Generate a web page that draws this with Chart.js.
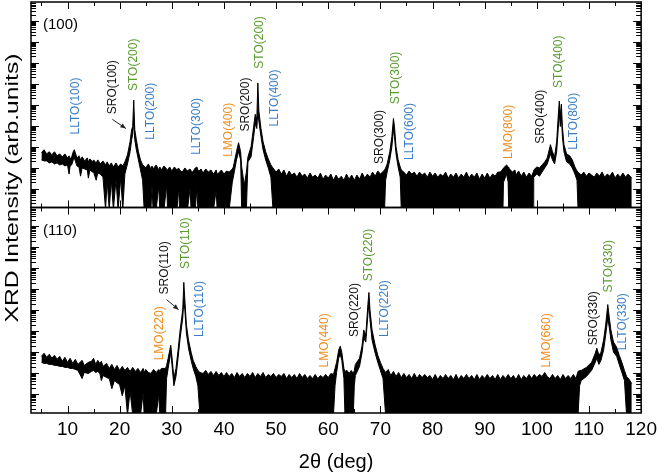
<!DOCTYPE html>
<html>
<head>
<meta charset="utf-8">
<script src="https://cdn.jsdelivr.net/npm/chart.js"></script>
<style>
  html, body { margin: 0; padding: 0; background: #fff; }
</style>
</head>
<body>
<canvas id="xrd" width="664" height="473"></canvas>
<script>
// 2theta (deg) and intensity envelope of the noisy scans (arb. units, log axis)
// upper = top edge of the trace, lower = bottom edge (1 = noise reaching the floor)

// (100) oriented film
const thetaTop = [
    5.0, 5.5, 6.0, 6.5, 7.0, 7.5, 8.0, 8.5, 9.0, 9.5,
    10.0, 10.3, 10.5, 10.8, 11.1, 11.3, 11.5, 11.8, 12.2, 12.5,
    12.8, 13.3, 13.8, 14.0, 14.3, 14.8, 15.0, 15.5, 15.8, 16.3,
    16.8, 17.3, 17.6, 18.0, 18.4, 18.8, 19.3, 19.7, 20.2, 20.6,
    21.0, 21.5, 22.0, 22.3, 22.5, 22.7, 22.9, 23.2, 23.6, 24.0,
    24.4, 24.7, 25.0, 25.5, 26.0, 26.2, 26.4, 27.0, 27.5, 27.7,
    28.0, 28.5, 29.0, 29.2, 29.6, 30.0, 30.5, 31.0, 31.3, 31.5,
    32.0, 32.5, 33.0, 33.5, 33.7, 34.0, 34.5, 34.8, 35.0, 35.2,
    35.6, 36.0, 36.5, 37.0, 37.5, 38.0, 38.5, 38.7, 39.0, 39.5,
    40.0, 40.5, 41.0, 41.6, 41.8, 42.4, 42.8, 43.2, 43.4, 43.9,
    44.3, 44.6, 45.2, 45.7, 46.0, 46.3, 46.5, 46.7, 47.1, 47.5,
    48.0, 48.5, 49.0, 49.4, 50, 50.5, 51, 51.5, 52, 52.5,
    53, 53.5, 54, 54.5, 55, 55.5, 56, 56.5, 57, 57.5,
    58, 58.5, 59, 59.5, 60, 60.5, 61, 61.5, 62, 62.5,
    63, 63.5, 64, 64.5, 65, 65.5, 66, 66.5, 67, 67.5,
    68, 68.5, 69, 69.5, 70, 70.8, 71.0, 71.3, 71.8, 72.2,
    72.5, 72.7, 73.0, 73.4, 73.8, 74.0, 74.5, 75, 75.5, 76,
    76.5, 77, 77.5, 78, 78.5, 79, 79.5, 80, 80.5, 81,
    81.5, 82, 82.5, 83, 83.5, 84, 84.5, 85, 85.5, 86,
    86.5, 87, 87.5, 88, 88.5, 89, 89.5, 90, 90.5, 91,
    91.5, 92, 92.5, 93, 93.5, 93.6, 94.2, 94.5, 94.6, 95.3,
    95.8, 96, 96.5, 97, 97.5, 98, 98.5, 99, 99.3, 99.4,
    100.0, 100.5, 101.0, 101.5, 102.0, 102.6, 103.0, 103.4, 103.8, 104.1,
    104.3, 104.5, 104.7, 104.9, 105.2, 105.7, 106.3, 106.8, 107.3, 107.7,
    107.9, 108.5, 109, 109.5, 110, 110.5, 111, 111.5, 112, 112.5,
    113, 113.5, 114, 114.5, 115, 115.5, 116, 116.5, 117, 117.5, 118.2
];
const upperTop = [
    510, 710, 450, 570, 405, 570, 365, 450, 325, 450,
    290, 365, 260, 325, 570, 710, 510, 290, 365, 233,
    325, 208, 290, 187, 260, 187, 233, 167, 233, 149,
    208, 134, 187, 120, 167, 107, 167, 107, 149, 120,
    187, 405, 1730, 6500, 9100, 165000, 6500, 2150, 570, 233,
    134, 120, 96, 149, 86, 120, 86, 134, 77, 107,
    77, 120, 86, 77, 107, 69, 107, 77, 96, 77,
    61, 96, 69, 86, 69, 61, 96, 107, 77, 69,
    86, 55, 86, 61, 77, 49, 77, 49, 55, 77,
    49, 69, 61, 86, 107, 570, 1540, 570, 107, 14.4,
    61, 325, 990, 9100, 35000, 20000, 1090000, 49000, 7300, 1730,
    570, 260, 134, 96, 61, 86, 49, 77, 39, 69,
    44, 55, 35, 61, 39, 49, 31.5, 55, 35, 44,
    31.5, 55, 28, 44, 31.5, 49, 25, 44, 28, 39,
    25, 49, 28, 44, 25, 44, 28, 55, 31.5, 49,
    35, 61, 39, 69, 49, 77, 96, 149, 570, 3000,
    22000, 9100, 990, 233, 107, 77, 61, 44, 69, 49,
    61, 39, 61, 44, 55, 35, 61, 39, 55, 35,
    49, 39, 61, 31.5, 49, 35, 55, 31.5, 49, 35,
    61, 31.5, 49, 35, 55, 28, 49, 31.5, 55, 31.5,
    49, 39, 61, 61, 86, 96, 134, 107, 96, 61,
    77, 44, 69, 39, 61, 35, 55, 39, 61, 77,
    107, 96, 134, 187, 290, 1240, 570, 325, 1730, 28000,
    148000, 28000, 106000, 9100, 1240, 450, 365, 233, 107, 69,
    61, 44, 61, 39, 55, 44, 35, 55, 39, 61,
    35, 49, 39, 61, 31.5, 49, 35, 55, 35, 49, 31.5
];
const lowerTop = [
    233, 208, 208, 167, 187, 149, 167, 134, 149, 120,
    134, 49, 120, 134, 233, 290, 208, 120, 107, 39,
    96, 86, 77, 31.5, 77, 61, 61, 25, 55, 49,
    35, 1, 25, 1, 25, 1, 28, 1, 31.5, 1,
    49, 149, 570, 2150, 3800, 16000, 2150, 710, 233, 77,
    25, 1, 1, 1, 1, 16, 1, 1, 12.9, 1,
    1, 1, 14.4, 1, 1, 1, 1, 1, 11.6, 1,
    1, 1, 1, 10.3, 1, 1, 1, 10.3, 1, 1,
    1, 1, 1, 1, 1, 1, 8.3, 1, 1, 1,
    1, 1, 1, 20, 35, 233, 570, 233, 1, 1,
    1, 187, 325, 3000, 12800, 7300, 49000, 16000, 3000, 710,
    233, 96, 35, 1, 1, 1, 1, 1, 1, 1,
    1, 1, 1, 1, 1, 1, 1, 1, 1, 1,
    1, 1, 1, 1, 1, 1, 1, 1, 1, 1,
    1, 1, 1, 1, 1, 1, 1, 1, 1, 1,
    1, 1, 1, 1, 1, 1, 25, 61, 233, 990,
    6500, 3000, 450, 107, 35, 1, 1, 1, 1, 1,
    1, 1, 1, 1, 1, 1, 1, 1, 1, 1,
    1, 1, 1, 1, 1, 1, 1, 1, 1, 1,
    1, 1, 1, 1, 1, 1, 1, 1, 1, 1,
    1, 1, 1, 1, 1, 20, 49, 20, 1, 1,
    1, 1, 1, 1, 1, 1, 1, 1, 1, 35,
    49, 39, 61, 96, 149, 450, 233, 149, 570, 6500,
    38800, 9100, 28000, 3000, 570, 187, 149, 96, 49, 25,
    1, 1, 1, 1, 1, 1, 1, 1, 1, 1,
    1, 1, 1, 1, 1, 1, 1, 1, 1, 1, 1
];

// (110) oriented film
const thetaBot = [
    5.0, 5.5, 6.0, 6.5, 7.0, 7.5, 8.0, 8.5, 9.0, 9.5,
    10.0, 10.5, 11.0, 11.5, 12.0, 12.8, 13.2, 14.0, 14.6, 15.0,
    15.4, 15.8, 16.2, 16.5, 16.8, 17.5, 18.0, 18.5, 19.0, 19.5,
    20.0, 20.5, 21.0, 21.5, 22.0, 22.5, 23.0, 23.5, 24.0, 24.5,
    24.7, 25.0, 25.5, 26.0, 26.5, 27.0, 27.5, 27.7, 28.0, 28.8,
    29.0, 29.3, 29.8, 30.1, 30.4, 30.8, 31.2, 31.6, 31.9, 32.1,
    32.3, 32.5, 32.8, 33.2, 33.7, 34.1, 34.6, 35.0, 35.4, 36,
    36.5, 37, 37.5, 38, 38.5, 39, 39.5, 40, 40.5, 41,
    41.5, 42, 42.5, 43, 43.5, 44, 44.5, 45, 45.5, 46,
    46.5, 47, 47.5, 48, 48.5, 49, 49.5, 50, 50.5, 51,
    51.5, 52, 52.5, 53, 53.5, 54, 54.5, 55, 55.5, 56,
    56.5, 57, 57.5, 58, 58.5, 59, 59.5, 60, 60.5, 61.0,
    61.3, 61.6, 62.0, 62.3, 62.6, 63.0, 63.2, 63.6, 64.0, 64.4,
    64.8, 65.0, 65.2, 66.0, 66.5, 66.8, 67.2, 67.6, 67.8, 68.0,
    68.4, 69.0, 69.5, 70.0, 70.5, 71.0, 71.5, 72, 72.5, 73,
    73.5, 74, 74.5, 75, 75.5, 76, 76.5, 77, 77.5, 78,
    78.5, 79, 79.5, 80, 80.5, 81, 81.5, 82, 82.5, 83,
    83.5, 84, 84.5, 85, 85.5, 86, 86.5, 87, 87.5, 88,
    88.5, 89, 89.5, 90, 90.5, 91, 91.5, 92, 92.5, 93,
    93.5, 94, 94.5, 95, 95.5, 96, 96.5, 97, 97.5, 98,
    98.5, 99, 99.5, 100, 100.5, 101, 101.5, 102, 102.5, 103,
    103.5, 104, 104.5, 105, 105.5, 106, 106.5, 107, 107.5, 107.9,
    108.2, 108.5, 109.5, 110.5, 111.2, 111.5, 111.9, 112.3, 112.8, 113.2,
    113.6, 113.9, 114.2, 114.7, 115.3, 115.8, 116.3, 116.8, 117.2, 117.6, 118.2
];
const upperBot = [
    630, 885, 570, 790, 510, 710, 450, 630, 365, 570,
    325, 510, 290, 450, 260, 405, 233, 325, 365, 510,
    260, 405, 290, 365, 208, 290, 167, 260, 149, 233,
    134, 208, 134, 187, 120, 187, 120, 167, 107, 167,
    107, 149, 107, 96, 149, 107, 149, 120, 167, 167,
    233, 510, 2150, 405, 55, 167, 1240, 11400, 43000, 106000,
    2130000, 321000, 20000, 3800, 990, 405, 208, 134, 107, 96,
    134, 86, 120, 77, 120, 77, 107, 69, 107, 69,
    96, 61, 107, 69, 96, 61, 96, 69, 107, 61,
    96, 69, 107, 61, 86, 69, 96, 61, 86, 69,
    96, 55, 86, 61, 86, 55, 96, 61, 86, 55,
    77, 55, 86, 55, 77, 61, 86, 61, 96, 86,
    167, 325, 1240, 1930, 990, 167, 120, 134, 96, 134,
    96, 134, 260, 510, 2150, 11400, 6500, 185000, 700000, 106000,
    11400, 2150, 710, 325, 167, 107, 149, 77, 120, 69,
    107, 61, 96, 61, 86, 55, 96, 55, 86, 61,
    86, 61, 77, 49, 86, 49, 77, 55, 86, 55,
    77, 49, 86, 49, 77, 55, 86, 55, 77, 49,
    86, 49, 77, 55, 86, 55, 77, 49, 86, 49,
    77, 55, 86, 55, 77, 49, 86, 49, 77, 55,
    86, 55, 86, 61, 86, 69, 107, 69, 55, 86,
    55, 77, 49, 86, 55, 77, 55, 86, 55, 120,
    134, 134, 187, 325, 885, 1540, 710, 990, 3800, 20000,
    185000, 43000, 11400, 3000, 1730, 710, 325, 134, 69, 55, 31.5
];
const lowerBot = [
    325, 290, 290, 260, 260, 233, 233, 208, 208, 187,
    187, 167, 167, 149, 134, 55, 107, 96, 120, 134,
    107, 120, 96, 44, 77, 61, 55, 18, 44, 35,
    28, 8.3, 25, 1, 14.4, 1, 1, 1, 1, 11.6,
    1, 1, 1, 1, 1, 1, 9.2, 1, 1, 1,
    55, 167, 990, 167, 25, 69, 510, 4700, 17800, 43000,
    321000, 106000, 8200, 1540, 405, 167, 69, 25, 1, 1,
    1, 1, 1, 1, 1, 1, 1, 1, 1, 1,
    1, 1, 1, 1, 1, 1, 1, 1, 1, 1,
    1, 1, 1, 1, 1, 1, 1, 1, 1, 1,
    1, 1, 1, 1, 1, 1, 1, 1, 1, 1,
    1, 1, 1, 1, 1, 1, 1, 1, 1, 1,
    25, 107, 510, 790, 405, 55, 1, 1, 1, 1,
    1, 25, 77, 208, 990, 4700, 3000, 61000, 230000, 35000,
    3800, 885, 325, 134, 55, 1, 1, 1, 1, 1,
    1, 1, 1, 1, 1, 1, 1, 1, 1, 1,
    1, 1, 1, 1, 1, 1, 1, 1, 1, 1,
    1, 1, 1, 1, 1, 1, 1, 1, 1, 1,
    1, 1, 1, 1, 1, 1, 1, 1, 1, 1,
    1, 1, 1, 1, 1, 1, 1, 1, 1, 1,
    1, 1, 1, 1, 1, 1, 1, 1, 1, 1,
    1, 1, 1, 1, 1, 1, 1, 1, 1, 1,
    25, 44, 69, 134, 325, 510, 260, 405, 1240, 6500,
    43000, 14300, 3800, 990, 630, 260, 107, 44, 1, 1, 1
];

const xTicks = [10, 20, 30, 40, 50, 60, 70, 80, 90, 100, 110, 120];

const BLUE = '#3a7dc6';
const GREEN = '#5a9b30';
const ORANGE = '#f08c1c';
const BLACK = '#111';

// peak labels: theta and intensity where the (rotated) text starts
const peakLabels = [
    { text: 'LLTO(100)', color: BLUE, theta: 11.55, at: 3800, axis: 'yTop' },
    { text: 'SRO(100)', color: BLACK, theta: 18.6, at: 35000, axis: 'yTop' },
    { text: 'STO(200)', color: GREEN, theta: 22.75, at: 450000, axis: 'yTop' },
    { text: 'LLTO(200)', color: BLUE, theta: 26.0, at: 2150, axis: 'yTop' },
    { text: 'LLTO(300)', color: BLUE, theta: 34.7, at: 405, axis: 'yTop' },
    { text: 'LMO(400)', color: ORANGE, theta: 41.0, at: 325, axis: 'yTop' },
    { text: 'SRO(200)', color: BLACK, theta: 44.2, at: 5200, axis: 'yTop' },
    { text: 'STO(200)', color: GREEN, theta: 46.9, at: 5200000, axis: 'yTop' },
    { text: 'LLTO(400)', color: BLUE, theta: 49.7, at: 9100, axis: 'yTop' },
    { text: 'SRO(300)', color: BLACK, theta: 69.9, at: 149, axis: 'yTop' },
    { text: 'STO(300)', color: GREEN, theta: 72.9, at: 106000, axis: 'yTop' },
    { text: 'LLTO(600)', color: BLUE, theta: 75.55, at: 233, axis: 'yTop' },
    { text: 'LMO(800)', color: ORANGE, theta: 94.55, at: 260, axis: 'yTop' },
    { text: 'SRO(400)', color: BLACK, theta: 100.8, at: 1380, axis: 'yTop' },
    { text: 'STO(400)', color: GREEN, theta: 104.2, at: 630000, axis: 'yTop' },
    { text: 'LLTO(800)', color: BLUE, theta: 107.1, at: 710, axis: 'yTop' },

    { text: 'LMO(220)', color: ORANGE, theta: 27.7, at: 405, axis: 'yBot' },
    { text: 'SRO(110)', color: BLACK, theta: 28.6, at: 560000, axis: 'yBot' },
    { text: 'STO(110)', color: GREEN, theta: 32.6, at: 9100000, axis: 'yBot' },
    { text: 'LLTO(110)', color: BLUE, theta: 35.3, at: 5200, axis: 'yBot' },
    { text: 'LMO(440)', color: ORANGE, theta: 59.4, at: 187, axis: 'yBot' },
    { text: 'SRO(220)', color: BLACK, theta: 65.1, at: 5200, axis: 'yBot' },
    { text: 'STO(220)', color: GREEN, theta: 67.8, at: 2400000, axis: 'yBot' },
    { text: 'LLTO(220)', color: BLUE, theta: 70.8, at: 5200, axis: 'yBot' },
    { text: 'LMO(660)', color: ORANGE, theta: 101.8, at: 187, axis: 'yBot' },
    { text: 'SRO(330)', color: BLACK, theta: 110.9, at: 2150, axis: 'yBot' },
    { text: 'STO(330)', color: GREEN, theta: 113.7, at: 700000, axis: 'yBot' },
    { text: 'LLTO(330)', color: BLUE, theta: 116.4, at: 1240, axis: 'yBot' }
];

const arrows = [
    { axis: 'yTop', from: [18.6, 20000], to: [21.2, 7300] },
    { axis: 'yBot', from: [29.0, 320000], to: [31.3, 106000] }
];

const panelTags = [
    { text: '(100)', axis: 'yTop' },
    { text: '(110)', axis: 'yBot' }
];

const FONT = 'Arial, "Liberation Sans", sans-serif';

function toPoints(xs, ys) {
    return xs.map((x, i) => ({ x: x, y: ys[i] }));
}

function trace(data, axis, fill) {
    return {
        data: data,
        yAxisID: axis,
        borderColor: '#000',
        backgroundColor: '#000',
        borderWidth: 1,
        pointRadius: 0,
        tension: 0,
        fill: fill
    };
}

// frame, inward ticks, peak labels and the y title
const decorations = {
    id: 'decorations',
    afterDatasetsDraw(chart) {
        const ctx = chart.ctx;
        const x = chart.scales.x;
        ctx.save();
        ctx.strokeStyle = '#000';

        ['yTop', 'yBot'].forEach(id => {
            const ys = chart.scales[id];
            ctx.lineWidth = 1;
            ctx.beginPath();
            for (let v = 5; v <= 120; v += 5) {
                const px = Math.round(x.getPixelForValue(v)) + 0.5;
                const len = v % 10 === 0 ? 7 : 4;
                ctx.moveTo(px, ys.bottom);
                ctx.lineTo(px, ys.bottom - len);
                ctx.moveTo(px, ys.top);
                ctx.lineTo(px, ys.top + len);
            }
            for (let d = 0; d <= 10; d++) {
                for (let m = 1; m <= 9; m++) {
                    const val = m * Math.pow(10, d);
                    if (val < ys.min || val > ys.max) continue;
                    const py = Math.round(ys.getPixelForValue(val)) + 0.5;
                    const len = m === 1 ? 8 : 5;
                    ctx.moveTo(x.left, py);
                    ctx.lineTo(x.left + len, py);
                    ctx.moveTo(x.right, py);
                    ctx.lineTo(x.right - len, py);
                }
            }
            ctx.stroke();
            ctx.lineWidth = 1.5;
            ctx.strokeRect(x.left, ys.top, x.right - x.left, ys.bottom - ys.top);
        });

        // peak labels
        ctx.font = '12px ' + FONT;
        ctx.textAlign = 'left';
        ctx.textBaseline = 'middle';
        peakLabels.forEach(l => {
            const ys = chart.scales[l.axis];
            ctx.save();
            ctx.translate(x.getPixelForValue(l.theta), ys.getPixelForValue(l.at));
            ctx.rotate(-Math.PI / 2);
            ctx.fillStyle = l.color;
            ctx.fillText(l.text, 0, 0);
            ctx.restore();
        });

        // arrows
        ctx.strokeStyle = '#222';
        ctx.fillStyle = '#222';
        ctx.lineWidth = 1;
        arrows.forEach(a => {
            const ys = chart.scales[a.axis];
            const x1 = x.getPixelForValue(a.from[0]), y1 = ys.getPixelForValue(a.from[1]);
            const x2 = x.getPixelForValue(a.to[0]), y2 = ys.getPixelForValue(a.to[1]);
            const ang = Math.atan2(y2 - y1, x2 - x1);
            ctx.beginPath();
            ctx.moveTo(x1, y1);
            ctx.lineTo(x2, y2);
            ctx.stroke();
            ctx.beginPath();
            ctx.moveTo(x2, y2);
            ctx.lineTo(x2 - 6 * Math.cos(ang - 0.4), y2 - 6 * Math.sin(ang - 0.4));
            ctx.lineTo(x2 - 6 * Math.cos(ang + 0.4), y2 - 6 * Math.sin(ang + 0.4));
            ctx.closePath();
            ctx.fill();
        });

        // panel tags
        ctx.fillStyle = '#000';
        ctx.font = '15px ' + FONT;
        panelTags.forEach(t => {
            const ys = chart.scales[t.axis];
            ctx.fillText(t.text, x.left + 12, ys.top + 23);
        });

        // y title (the original lettering is stretched along its length)
        ctx.save();
        ctx.font = '19px ' + FONT;
        ctx.textAlign = 'center';
        ctx.translate(13, 188);
        ctx.rotate(-Math.PI / 2);
        ctx.scale(1.3, 1);
        ctx.fillText('XRD Intensity (arb.units)', 0, 0);
        ctx.restore();

        ctx.restore();
    }
};

new Chart(document.getElementById('xrd'), {
    type: 'line',
    data: {
        datasets: [
            trace(toPoints(thetaTop, upperTop), 'yTop', '+1'),
            trace(toPoints(thetaTop, lowerTop), 'yTop', false),
            trace(toPoints(thetaBot, upperBot), 'yBot', '+1'),
            trace(toPoints(thetaBot, lowerBot), 'yBot', false)
        ]
    },
    options: {
        responsive: false,
        animation: false,
        devicePixelRatio: 1,
        layout: { padding: { left: 31, right: 17, top: 2, bottom: 1 } },
        plugins: { legend: { display: false }, tooltip: { enabled: false } },
        scales: {
            x: {
                type: 'linear',
                min: 3,
                max: 120,
                grid: { display: false, drawTicks: false },
                border: { display: false },
                afterBuildTicks: s => { s.ticks = xTicks.map(v => ({ value: v })); },
                ticks: { color: '#000', padding: 7, font: { size: 19, family: FONT, lineHeight: 1 } },
                title: {
                    display: true,
                    text: '2θ (deg)',
                    color: '#000',
                    padding: { top: 6, bottom: 0 },
                    font: { size: 20, family: FONT, lineHeight: 1 }
                }
            },
            // the first axis of a stack is laid out at the bottom
            yBot: {
                type: 'logarithmic',
                position: 'left',
                stack: 'panels',
                stackWeight: 1,
                min: 1.25,
                max: 7.9e9,
                display: false
            },
            yTop: {
                type: 'logarithmic',
                position: 'left',
                stack: 'panels',
                stackWeight: 1,
                min: 1.25,
                max: 7.9e9,
                display: false
            }
        }
    },
    plugins: [decorations]
});
</script>
</body>
</html>
